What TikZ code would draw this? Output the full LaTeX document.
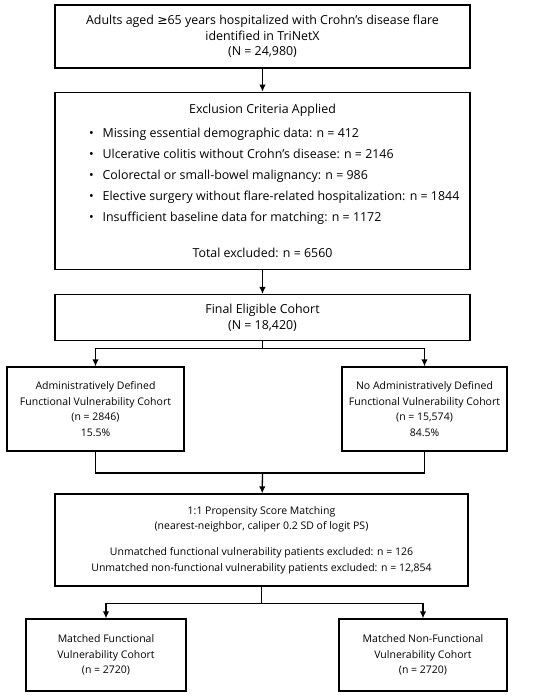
\documentclass[tikz,border=0pt]{standalone}
\usepackage{fontspec}
\setmainfont{Open Sans}
\newfontfamily\symfont{DejaVu Sans}
\usepackage{tikz}
\usetikzlibrary{shapes,arrows.meta,positioning,calc}
\tikzstyle{stage} = [rectangle, draw=black, line width=1.3pt, fill=white, text=black, align=center, inner sep=0pt, font=\fontsize{10.5}{15.5}\selectfont]
\tikzstyle{bigstage} = [stage, font=\fontsize{12.4}{15.5}\selectfont]
\tikzstyle{tedge}  = [draw, line width=1.3pt, >={Latex[length=7pt,width=6.5pt]}, ->]
\tikzstyle{tline}  = [draw, line width=1.3pt]
\newcommand{\critem}[1]{\makebox[347pt][l]{\textbullet\hspace{9pt}#1}}

\begin{document}
\begin{tikzpicture}[x=1pt, y=1pt]
\useasboundingbox (0,0) rectangle (550,-697);

% stages =============================
\node[bigstage, minimum width=415pt, minimum height=63pt] (cohort) at (262.5,-36.5)
  {Adults aged {\symfont ≥}65 years hospitalized with Crohn’s disease flare\\ identified in TriNetX\\ (N = 24,980)};
\node[bigstage, minimum width=415pt, minimum height=177pt, below=23pt of cohort] (exclusion)
  {Exclusion Criteria Applied\\[8.5pt]
   \critem{Missing essential demographic data: n = 412}\\[5.5pt]
   \critem{Ulcerative colitis without Crohn’s disease: n = 2146}\\[5.5pt]
   \critem{Colorectal or small-bowel malignancy: n = 986}\\[5.5pt]
   \critem{Elective surgery without flare-related hospitalization: n = 1844}\\[5.5pt]
   \critem{Insufficient baseline data for matching: n = 1172}\\[20.5pt]
   Total excluded: n = 6560};
\node[bigstage, minimum width=415pt, minimum height=46pt, below=24pt of exclusion] (eligible)
  {Final Eligible Cohort\\ (N = 18,420)};
\node[stage, minimum width=177pt, minimum height=84pt] (fv) at (95.5,-409)
  {Administratively Defined\\ Functional Vulnerability Cohort\\ (n = 2846)\\ 15.5\%};
\node[stage, minimum width=165pt, minimum height=84pt] (nofv) at (424.5,-409)
  {No Administratively Defined\\ Functional Vulnerability Cohort\\ (n = 15,574)\\ 84.5\%};
\node[stage, minimum width=413pt, minimum height=92pt] (psm) at (261.5,-540)
  {1:1 Propensity Score Matching\\ (nearest-neighbor, caliper 0.2 SD of logit PS)\\[10.5pt]
   Unmatched functional vulnerability patients excluded: n = 126\\
   Unmatched non-functional vulnerability patients excluded: n = 12,854};
\node[stage, minimum width=160pt, minimum height=72pt] (mfv) at (106,-655)
  {Matched Functional\\ Vulnerability Cohort\\ (n = 2720)};
\node[stage, minimum width=168pt, minimum height=72pt] (mnofv) at (423,-655)
  {Matched Non-Functional\\ Vulnerability Cohort\\ (n = 2720)};

% edges
\coordinate (split) at ($(eligible.south)+(0,-7)$);
\coordinate (join) at (262.5,-473);
\coordinate (split2) at ($(psm.south)+(0,-17)$);
\path[tedge] (cohort) -- (exclusion);
\path[tedge] (exclusion) -- (eligible);
\path[tline] (eligible.south) -- (split);
\path[tedge] (split) -| (fv.north);
\path[tedge] (split) -| (nofv.north);
\path[tline] (fv.south) |- (join) -| (nofv.south);
\path[tedge] (join) -- (psm);
\path[tline] (psm.south) -- (split2);
\path[tedge] (split2) -| (mfv.north);
\path[tedge] (split2) -| (mnofv.north);

\end{tikzpicture}
\end{document}
